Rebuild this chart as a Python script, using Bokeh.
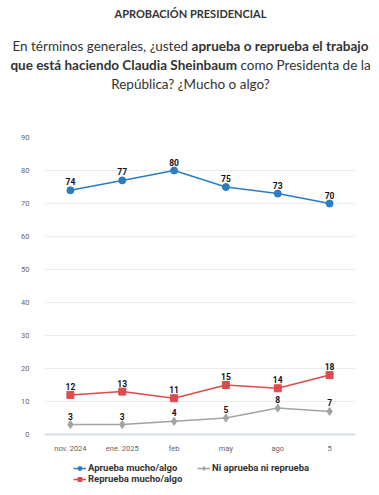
from bokeh.plotting import figure
from bokeh.models import Div, ColumnDataSource, Legend, LegendItem, FixedTicker, Range1d
from bokeh.layouts import column
from bokeh.embed import file_html
from bokeh.resources import INLINE
from bokeh.core.properties import value

categories = ["nov. 2024", "ene. 2025", "feb", "may", "ago", "5"]
aprueba = [74, 77, 80, 75, 73, 70]
reprueba = [12, 13, 11, 15, 14, 18]
ni = [3, 3, 4, 5, 8, 7]
y_ticks = [0, 10, 20, 30, 40, 50, 60, 70, 80, 90]

FONT = "Roboto"
BLUE = "#2b7cc2"
RED = "#e04a4a"
GRAY = "#a3a3a3"
W = 371

header = Div(
    text=(
        f'<div style="text-align:center;font-family:Lato;color:#333;width:{W}px;">'
        '<div style="font-weight:bold;font-size:11px;line-height:14px;margin-top:2px;">APROBACIÓN PRESIDENCIAL</div>'
        '<div style="font-size:13.5px;line-height:19px;margin-top:16px;white-space:nowrap;">'
        'En términos generales, ¿usted <b>aprueba o reprueba el trabajo</b><br>'
        '<b>que está haciendo Claudia Sheinbaum</b> como Presidenta de la<br>'
        'República? ¿Mucho o algo?</div></div>'
    ),
    width=W, height=102,
)

p = figure(
    x_range=categories, y_range=Range1d(0, 90),
    width=W, height=343,
    output_backend="svg", toolbar_location=None,
    min_border_left=44, min_border_right=16, min_border_top=25, min_border_bottom=20,
)
p.outline_line_color = None
p.xgrid.grid_line_color = None
p.ygrid.grid_line_color = "#ececec"
p.ygrid.grid_line_width = 1
p.yaxis.ticker = FixedTicker(ticks=y_ticks)
p.yaxis.axis_line_color = None
p.yaxis.major_tick_line_color = None
p.yaxis.minor_tick_line_color = None
p.yaxis.major_label_text_font = FONT
p.yaxis.major_label_text_font_size = "7.5px"
p.yaxis.major_label_text_color = "#666666"
p.yaxis.major_label_standoff = 9
p.xaxis.axis_line_color = "#d8dee8"
p.xaxis.axis_line_width = 2
p.xaxis.major_tick_line_color = None
p.xaxis.minor_tick_line_color = None
p.xaxis.major_label_text_font = FONT
p.xaxis.major_label_text_font_size = "7.5px"
p.xaxis.major_label_text_color = "#666666"
p.xaxis.major_label_standoff = 3

series = [
    ("Aprueba mucho/algo", aprueba, BLUE, "circle", 7),
    ("Reprueba mucho/algo", reprueba, RED, "square", 7),
    ("Ni aprueba ni reprueba", ni, GRAY, "diamond", 8),
]

# legend lives in its own small figure below the chart (frames are aligned in the column)
lf = figure(width=W, height=40, output_backend="svg", toolbar_location=None,
            x_range=Range1d(0, 1), y_range=Range1d(0, 1),
            min_border_left=44, min_border_right=16, min_border_top=0, min_border_bottom=0)
lf.axis.visible = False
lf.grid.visible = False
lf.outline_line_color = None

items = {}
for name, vals, color, marker, size in series:
    src = ColumnDataSource(dict(x=categories, y=vals, lab=[str(v) for v in vals]))
    p.line("x", "y", source=src, line_color=color, line_width=1.5)
    p.scatter("x", "y", source=src, marker=marker, size=size, fill_color=color, line_color=color)
    p.text("x", "y", text="lab", source=src, text_font=value(FONT), text_font_size="8.5px",
           text_font_style="bold", text_color="#111122", text_align="center",
           text_baseline="bottom", y_offset=-5)
    off = ColumnDataSource(dict(x=[5, 6], y=[5, 5]))
    l = lf.line("x", "y", source=off, line_color=color, line_width=1.5)
    s = lf.scatter("x", "y", source=off, marker=marker, size=size, fill_color=color, line_color=color)
    items[name] = LegendItem(label=name, renderers=[l, s])

common = dict(
    orientation="horizontal",
    label_text_font=FONT, label_text_font_size="9.5px", label_text_font_style="bold",
    label_text_color="#333333", glyph_width=13, glyph_height=10, label_standoff=2,
    spacing=0, padding=0, border_line_color=None, label_height=10,
    background_fill_alpha=0, margin=0,
)
lf.add_layout(Legend(items=[items["Aprueba mucho/algo"]], location=(29, 22), **common), "center")
lf.add_layout(Legend(items=[items["Ni aprueba ni reprueba"]], location=(153, 22), **common), "center")
lf.add_layout(Legend(items=[items["Reprueba mucho/algo"]], location=(29, 11), **common), "center")

layout = column(header, p, lf, spacing=0)
open("out.html", "w").write(file_html(layout, INLINE))
